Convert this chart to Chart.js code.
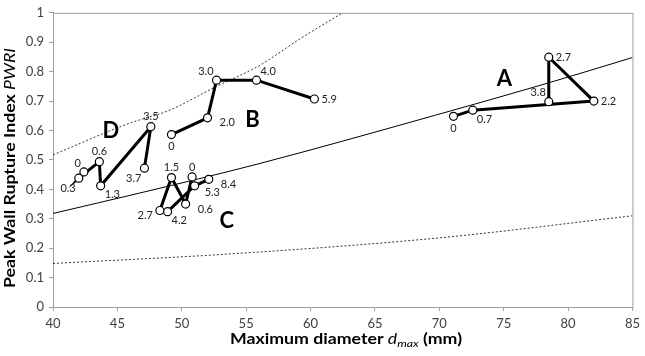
<!DOCTYPE html>
<html>
<head>
<meta charset="utf-8">
<script src="https://cdn.jsdelivr.net/npm/chart.js@4.4.1/dist/chart.umd.min.js"></script>
<style>
  html, body { margin: 0; padding: 0; background: #fff; }
  #wrap { width: 645px; height: 356px; }
</style>
</head>
<body>
<div id="wrap"><canvas id="chart" width="645" height="356"></canvas></div>
<script>
// Patient groups: diameter (mm), PWRI, follow-up time labels
const aX = [71.1, 72.6, 82.0, 78.5, 78.5];
const aY = [0.648, 0.669, 0.700, 0.849, 0.698];
const aT = ["0", "0.7", "2.2", "2.7", "3.8"];

const bX = [49.2, 52.0, 52.7, 55.8, 60.3];
const bY = [0.586, 0.643, 0.771, 0.771, 0.707];
const bT = ["0", "2.0", "3.0", "4.0", "5.9"];

const cX = [50.8, 50.3, 49.2, 48.3, 48.9, 51.0, 52.1];
const cY = [0.442, 0.350, 0.440, 0.328, 0.324, 0.412, 0.434];
const cT = ["0", "0.6", "1.5", "2.7", "4.2", "5.3", "8.4"];

const dX = [42.4, 42.0, 43.6, 43.7, 47.6, 47.1];
const dY = [0.459, 0.438, 0.494, 0.412, 0.613, 0.472];
const dT = ["0", "0.3", "0.6", "1.3", "3.5", "3.7"];

// reference curves
const midX = [40, 46.7, 55.9, 69.7, 78.5, 85];
const midY = [0.318, 0.387, 0.486, 0.652, 0.762, 0.848];
const upX = [40, 45.9, 49, 52.7, 56, 59.2, 62.5];
const upY = [0.517, 0.624, 0.668, 0.75, 0.82, 0.912, 1.0];
const lowX = [40, 53.6, 70, 85];
const lowY = [0.148, 0.18, 0.235, 0.31];

// group letters
const letters = ["A", "B", "C", "D"];
const letterX = [75.05, 55.5, 53.5, 44.5];
const letterY = [0.774, 0.636, 0.293, 0.599];

// where each time label sits relative to its point
const aPos = ["s", "se", "e", "e", "nw"];
const bPos = ["s", "e2", "nw", "ne", "e"];
const cPos = ["n", "e2", "n", "w", "se", "se2", "e2"];
const dPos = ["nw", "sw", "n", "se", "n", "sw"];

const FONT = "Lato, 'Open Sans', sans-serif";
const pts = (xs, ys) => xs.map((x, i) => ({ x: x, y: ys[i] }));

function groupSet(xs, ys, times, pos) {
  return {
    data: pts(xs, ys),
    times: times,
    pos: pos,
    order: 0,
    showLine: true,
    borderColor: "#000",
    borderWidth: 3,
    pointRadius: 4,
    pointBackgroundColor: "#fff",
    pointBorderColor: "#000",
    pointBorderWidth: 1.2,
    tension: 0,
  };
}

function curveSet(xs, ys, dash) {
  return {
    data: pts(xs, ys),
    order: 5,
    showLine: true,
    borderColor: "#000",
    borderWidth: dash ? 0.8 : 1,
    borderDash: dash ? [2, 2] : [],
    pointRadius: 0,
    cubicInterpolationMode: "monotone",
  };
}

const offsets = {
  n: [0, -10, "center"], s: [0, 12, "center"],
  e: [7, 0, "left"], e2: [12, 5, "left"], w: [-7, 5, "right"],
  nw: [-3, -9, "right"], ne: [4, -9, "left"],
  sw: [-3, 10, "right"], se: [4, 9, "left"], se2: [10, 7, "left"],
};

// draw mixed-style text stretched along its run to a given length
function richText(ctx, parts, cx, cy, stretch) {
  const widths = parts.map((p) => { ctx.font = p.font; return ctx.measureText(p.text).width; });
  const total = widths.reduce((s, w) => s + w, 0);
  ctx.save();
  ctx.translate(cx, cy);
  ctx.scale(stretch, 1);
  let x = -total / 2;
  parts.forEach((p, i) => {
    ctx.font = p.font;
    ctx.fillText(p.text, x, p.dy || 0);
    x += widths[i];
  });
  ctx.restore();
}

const annotate = {
  id: "annotate",
  beforeDatasetsDraw(chart) {
    const { ctx, chartArea: a } = chart;
    ctx.save();
    ctx.strokeStyle = "#a0a0a0";
    ctx.lineWidth = 1;
    ctx.strokeRect(a.left + 0.5, a.top + 0.5, a.right - a.left, a.bottom - a.top);
    ctx.restore();
  },
  afterDatasetsDraw(chart) {
    const { ctx } = chart;
    const xs = chart.scales.x, ys = chart.scales.y;
    ctx.save();
    ctx.fillStyle = "#222";
    ctx.font = "11px " + FONT;
    ctx.textBaseline = "middle";
    chart.data.datasets.forEach((ds, di) => {
      if (!ds.times) return;
      const meta = chart.getDatasetMeta(di);
      meta.data.forEach((el, i) => {
        const o = offsets[ds.pos[i]];
        ctx.textAlign = o[2];
        ctx.fillText(ds.times[i], el.x + o[0], el.y + o[1]);
      });
    });
    ctx.fillStyle = "#000";
    ctx.font = "bold 22px " + FONT;
    ctx.textAlign = "center";
    letters.forEach((l, i) => {
      ctx.fillText(l, xs.getPixelForValue(letterX[i]), ys.getPixelForValue(letterY[i]));
    });

    ctx.textAlign = "left";
    ctx.textBaseline = "alphabetic";
    const B = "bold 14.5px " + FONT, I = "italic 14.5px " + FONT, S = "italic 10px " + FONT;
    const xParts = [
      { text: "Maximum diameter ", font: B },
      { text: "d", font: I },
      { text: "max", font: S, dy: 3 },
      { text: " (mm)", font: B },
    ];
    const widths = xParts.map((p) => { ctx.font = p.font; return ctx.measureText(p.text).width; });
    const stretch = 232 / widths.reduce((s, w) => s + w, 0);
    richText(ctx, xParts, 346, 344, stretch);

    ctx.save();
    ctx.translate(15, 168);
    ctx.rotate(-Math.PI / 2);
    richText(ctx, [
      { text: "Peak Wall Rupture Index ", font: B },
      { text: "PWRI", font: I },
    ], 0, 0, stretch);
    ctx.restore();
    ctx.restore();
  },
};

new Chart(document.getElementById("chart"), {
  type: "scatter",
  data: {
    datasets: [
      groupSet(aX, aY, aT, aPos),
      groupSet(bX, bY, bT, bPos),
      groupSet(cX, cY, cT, cPos),
      groupSet(dX, dY, dT, dPos),
      curveSet(midX, midY, false),
      curveSet(upX, upY, true),
      curveSet(lowX, lowY, true),
    ],
  },
  options: {
    responsive: false,
    animation: false,
    layout: { padding: { top: 5, right: 7, left: 0, bottom: 0 } },
    plugins: { legend: { display: false }, tooltip: { enabled: false } },
    scales: {
      x: {
        type: "linear",
        min: 40,
        max: 85,
        afterFit: (s) => { s.height = 49; },
        ticks: { stepSize: 5, color: "#404040", font: { size: 13, family: FONT }, padding: 5 },
        grid: { drawOnChartArea: false, tickLength: 4, color: "#a0a0a0" },
        border: { color: "#a0a0a0" },
      },
      y: {
        min: 0,
        max: 1,
        afterFit: (s) => { s.width = 53; },
        ticks: {
          stepSize: 0.1,
          color: "#404040",
          font: { size: 13, family: FONT },
          padding: 5,
          callback: (v) => String(Math.round(v * 10) / 10),
        },
        grid: { drawOnChartArea: false, tickLength: 4, color: "#a0a0a0" },
        border: { color: "#a0a0a0" },
      },
    },
  },
  plugins: [annotate],
});
</script>
</body>
</html>
